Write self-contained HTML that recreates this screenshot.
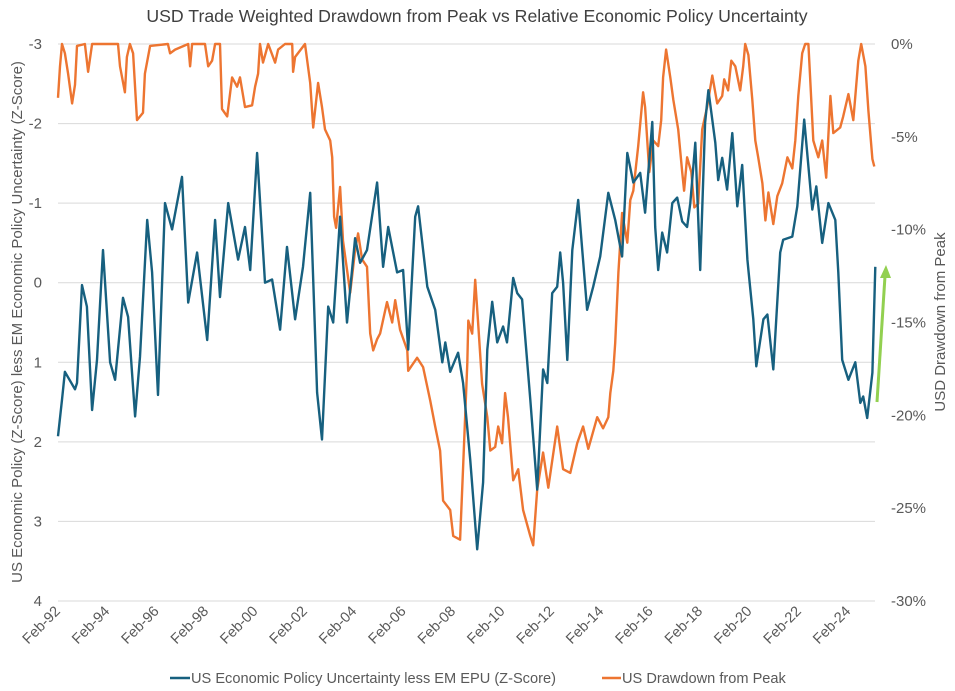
<!DOCTYPE html>
<html><head><meta charset="utf-8"><style>
body{margin:0;background:#fff;}
svg{display:block;font-family:"Liberation Sans",Arial,sans-serif;}
</style></head><body>
<svg id="chart" width="955" height="691" viewBox="0 0 955 691">
<text x="477" y="22" text-anchor="middle" font-size="17.7" fill="#404040">USD Trade Weighted Drawdown from Peak vs Relative Economic Policy Uncertainty</text>
<g id="grid"></g><g id="axes"></g><g id="series"></g>
<text transform="translate(22,322) rotate(-90)" text-anchor="middle" font-size="15" fill="#595959">US Economic Policy (Z-Score) less EM Economic Policy Uncertainty (Z-Score)</text>
<text transform="translate(945,322) rotate(-90)" text-anchor="middle" font-size="15" fill="#595959">USD Drawdown from Peak</text>
<g>
<line x1="877" y1="402" x2="885" y2="276" stroke="#92d050" stroke-width="3"/>
<polygon points="886,265 880,278 891,278" fill="#92d050"/>
</g>
<g>
<line x1="170" y1="678" x2="190" y2="678" stroke="#17607f" stroke-width="2.5"/>
<text x="191" y="683" font-size="14.6" fill="#595959">US Economic Policy Uncertainty less EM EPU (Z-Score)</text>
<line x1="602" y1="678" x2="621" y2="678" stroke="#ed7531" stroke-width="2.5"/>
<text x="622" y="683" font-size="14.6" fill="#595959">US Drawdown from Peak</text>
</g>
</svg>
<script>
const leftTicks=[-3,-2,-1,0,1,2,3,4];
const rightTicks=[0,-5,-10,-15,-20,-25,-30];
const xTickLabels=["Feb-92","Feb-94","Feb-96","Feb-98","Feb-00","Feb-02","Feb-04","Feb-06","Feb-08","Feb-10","Feb-12","Feb-14","Feb-16","Feb-18","Feb-20","Feb-22","Feb-24"];
const xTickYears=[1992.08,1994.08,1996.08,1998.08,2000.08,2002.08,2004.08,2006.08,2008.08,2010.08,2012.08,2014.08,2016.08,2018.08,2020.08,2022.08,2024.08];
const epuDates=[1992.08,1992.24,1992.36,1992.77,1992.85,1993.05,1993.25,1993.46,1993.66,1993.90,1994.19,1994.39,1994.71,1994.92,1995.20,1995.40,1995.69,1995.89,1996.13,1996.41,1996.70,1997.10,1997.35,1997.71,1998.12,1998.44,1998.64,1998.97,1999.37,1999.65,1999.86,2000.14,2000.46,2000.75,2001.07,2001.35,2001.68,2002.00,2002.29,2002.57,2002.77,2003.02,2003.22,2003.50,2003.78,2004.11,2004.31,2004.59,2005.00,2005.24,2005.45,2005.81,2006.05,2006.26,2006.54,2006.66,2007.03,2007.35,2007.64,2007.76,2007.96,2008.28,2008.48,2008.77,2009.05,2009.29,2009.46,2009.66,2009.86,2010.10,2010.26,2010.51,2010.67,2010.87,2011.20,2011.48,2011.72,2011.89,2012.09,2012.29,2012.41,2012.53,2012.70,2012.90,2013.14,2013.50,2013.75,2014.03,2014.36,2014.64,2014.92,2015.13,2015.37,2015.65,2015.85,2016.14,2016.26,2016.38,2016.54,2016.74,2016.95,2017.15,2017.35,2017.55,2017.68,2017.88,2018.08,2018.28,2018.41,2018.69,2018.81,2018.97,2019.17,2019.38,2019.58,2019.78,2019.99,2020.03,2020.23,2020.35,2020.64,2020.80,2021.04,2021.32,2021.44,2021.81,2022.01,2022.29,2022.62,2022.78,2023.02,2023.27,2023.55,2023.67,2023.83,2024.08,2024.36,2024.56,2024.68,2024.84,2025.05,2025.17];
const epuValues=[1.93,1.47,1.12,1.34,1.26,0.03,0.3,1.6,0.97,-0.41,1.0,1.22,0.19,0.43,1.68,0.93,-0.79,-0.13,1.41,-1.0,-0.67,-1.33,0.25,-0.38,0.72,-0.79,0.18,-1.0,-0.29,-0.7,-0.16,-1.63,0,-0.04,0.59,-0.45,0.46,-0.2,-1.13,1.38,1.97,0.3,0.5,-0.83,0.5,-0.56,-0.25,-0.41,-1.26,-0.2,-0.7,-0.13,-0.16,0.84,-0.83,-0.96,0.05,0.34,1.0,0.75,1.12,0.88,1.26,2.22,3.35,2.51,0.84,0.24,0.75,0.55,0.75,-0.06,0.13,0.21,1.47,2.6,1.09,1.26,0.13,0.05,-0.38,0,0.97,-0.41,-1.04,0.34,0.05,-0.33,-1.13,-0.79,-0.33,-1.63,-1.26,-1.38,-0.88,-2.02,-0.7,-0.16,-0.63,-0.38,-1.0,-1.07,-0.77,-0.7,-1.0,-1.76,-0.16,-2.01,-2.42,-1.76,-1.29,-1.57,-1.17,-1.88,-0.96,-1.48,-0.29,-0.16,0.46,1.05,0.46,0.4,1.09,-0.38,-0.54,-0.58,-0.96,-2.05,-0.92,-1.21,-0.5,-1.0,-0.79,-0.13,0.97,1.22,1.0,1.51,1.43,1.7,1.13,-0.2];
const ddDates=[1992.08,1992.16,1992.24,1992.36,1992.49,1992.65,1992.77,1992.85,1993.17,1993.30,1993.46,1994.51,1994.59,1994.79,1994.87,1994.99,1995.12,1995.28,1995.52,1995.60,1995.81,1996.53,1996.62,1996.82,1997.35,1997.43,1997.51,1998.03,1998.16,1998.32,1998.44,1998.64,1998.72,1998.93,1999.13,1999.33,1999.45,1999.65,1999.94,2000.06,2000.18,2000.26,2000.38,2000.59,2000.87,2000.99,2001.27,2001.56,2001.60,2001.68,2002.08,2002.29,2002.41,2002.61,2002.77,2002.89,2003.10,2003.18,2003.26,2003.34,2003.50,2003.62,2003.91,2004.11,2004.23,2004.39,2004.59,2004.72,2004.84,2005.00,2005.12,2005.40,2005.61,2005.73,2005.93,2006.22,2006.26,2006.62,2006.86,2007.15,2007.35,2007.55,2007.67,2007.96,2008.08,2008.36,2008.48,2008.65,2008.69,2008.85,2008.97,2009.09,2009.25,2009.46,2009.58,2009.78,2009.90,2010.06,2010.18,2010.30,2010.51,2010.71,2010.91,2011.20,2011.32,2011.48,2011.72,2011.93,2012.29,2012.53,2012.82,2013.10,2013.34,2013.55,2013.91,2014.15,2014.36,2014.44,2014.56,2014.64,2014.77,2014.92,2015.13,2015.25,2015.37,2015.57,2015.77,2015.85,2016.02,2016.18,2016.38,2016.50,2016.58,2016.70,2016.87,2016.99,2017.19,2017.35,2017.43,2017.55,2017.72,2017.84,2018.00,2018.16,2018.36,2018.57,2018.77,2018.97,2019.05,2019.21,2019.34,2019.50,2019.70,2019.82,2019.90,2020.03,2020.19,2020.31,2020.43,2020.60,2020.72,2020.84,2021.04,2021.20,2021.40,2021.61,2021.81,2021.93,2022.05,2022.21,2022.33,2022.46,2022.54,2022.66,2022.86,2023.02,2023.18,2023.35,2023.47,2023.75,2023.87,2024.08,2024.28,2024.48,2024.60,2024.77,2024.89,2025.05,2025.13];
const ddValues=[-2.9,-1.2,0,-0.5,-1.6,-3.2,-2.2,-0.1,0,-1.5,0,0,-1.2,-2.6,-0.7,0,-0.5,-4.1,-3.7,-1.6,-0.1,0,-0.5,-0.3,0,-1.2,0,0,-1.2,-0.9,0,0,-3.5,-3.9,-1.8,-2.3,-1.8,-3.4,-3.3,-2.3,-1.6,0,-1.0,0,-1.0,-0.3,0,0,-1.5,-0.7,0,-2.1,-4.5,-2.1,-3.4,-4.6,-5.2,-6.1,-9.3,-9.9,-7.7,-10.6,-13.4,-11.1,-10.2,-11.6,-12.0,-15.6,-16.5,-15.9,-15.6,-13.9,-15.0,-13.8,-15.4,-16.5,-17.6,-16.9,-17.4,-19.2,-20.6,-21.9,-24.6,-25.1,-26.5,-26.7,-22.8,-17.2,-14.9,-15.6,-12.7,-15.0,-18.3,-20.1,-21.9,-21.7,-20.6,-21.5,-18.8,-20.1,-23.5,-22.9,-25.1,-26.5,-27.0,-24.0,-22.0,-23.9,-20.6,-22.9,-23.1,-21.5,-20.6,-21.8,-20.1,-20.7,-20.1,-18.8,-17.6,-16.1,-12.3,-9.1,-10.7,-8.4,-7.9,-5.5,-2.6,-3.4,-6.9,-5.2,-5.5,-4.1,-1.8,-0.3,-1.8,-3.0,-4.6,-6.9,-7.9,-6.1,-6.9,-8.8,-8.6,-4.6,-3.4,-1.7,-3.2,-2.8,-1.9,-2.5,-0.9,-1.2,-2.5,-1.2,0,-0.6,-3.0,-5.2,-6.1,-7.5,-9.5,-8.0,-9.7,-8.2,-7.5,-6.1,-6.7,-5.2,-2.8,-0.5,0,0,-2.1,-5.2,-6.1,-5.2,-7.2,-2.8,-4.8,-4.5,-3.9,-2.7,-4.1,-0.9,0,-1.2,-3.6,-6.2,-6.6];

const NS="http://www.w3.org/2000/svg";
const X0=58,X1=875,YT=44,YB=601;
function xS(yr){return X0+(yr-1992.08)*24.7;}
function yL(v){return YT+(v+3)/7*(YB-YT);}
function yR(p){return YT+(-p)/30*(YB-YT);}
function mk(tag,attrs,parent){const e=document.createElementNS(NS,tag);for(const k in attrs)e.setAttribute(k,attrs[k]);parent.appendChild(e);return e;}
const grid=document.getElementById('grid'),axes=document.getElementById('axes'),ser=document.getElementById('series');
leftTicks.forEach(v=>{
  const l=mk('line',{x1:X0,x2:X1,y1:yL(v),y2:yL(v),stroke:'#d9d9d9','stroke-width':1},grid);
  
  
  const t=mk('text',{x:42,y:yL(v)+5,'text-anchor':'end','font-size':15,fill:'#595959'},axes);
  t.textContent=String(v);
  
  
});
rightTicks.forEach(p=>{
  const t=mk('text',{x:891,y:yR(p)+5,'font-size':15,fill:'#595959'},axes);
  t.textContent=p+'%';
  
  
});
xTickLabels.forEach((s,i)=>{
  const x=xS(xTickYears[i]);
  const t=mk('text',{x:0,y:0,'text-anchor':'end','font-size':14.6,fill:'#595959',transform:`translate(${x+3},${612}) rotate(-45)`},axes);
  t.textContent=s;
  
  
});
let d1=ddDates.map((d,i)=>(i?'L':'M')+xS(d).toFixed(1)+','+yR(ddValues[i]).toFixed(1)).join('');
const p1=mk('path',{d:d1,fill:'none',stroke:'#ed7531','stroke-width':2.4,'stroke-linejoin':'round'},ser);


let d2=epuDates.map((d,i)=>(i?'L':'M')+xS(d).toFixed(1)+','+yL(epuValues[i]).toFixed(1)).join('');
const p2=mk('path',{d:d2,fill:'none',stroke:'#17607f','stroke-width':2.4,'stroke-linejoin':'round'},ser);


</script>
</body></html>
